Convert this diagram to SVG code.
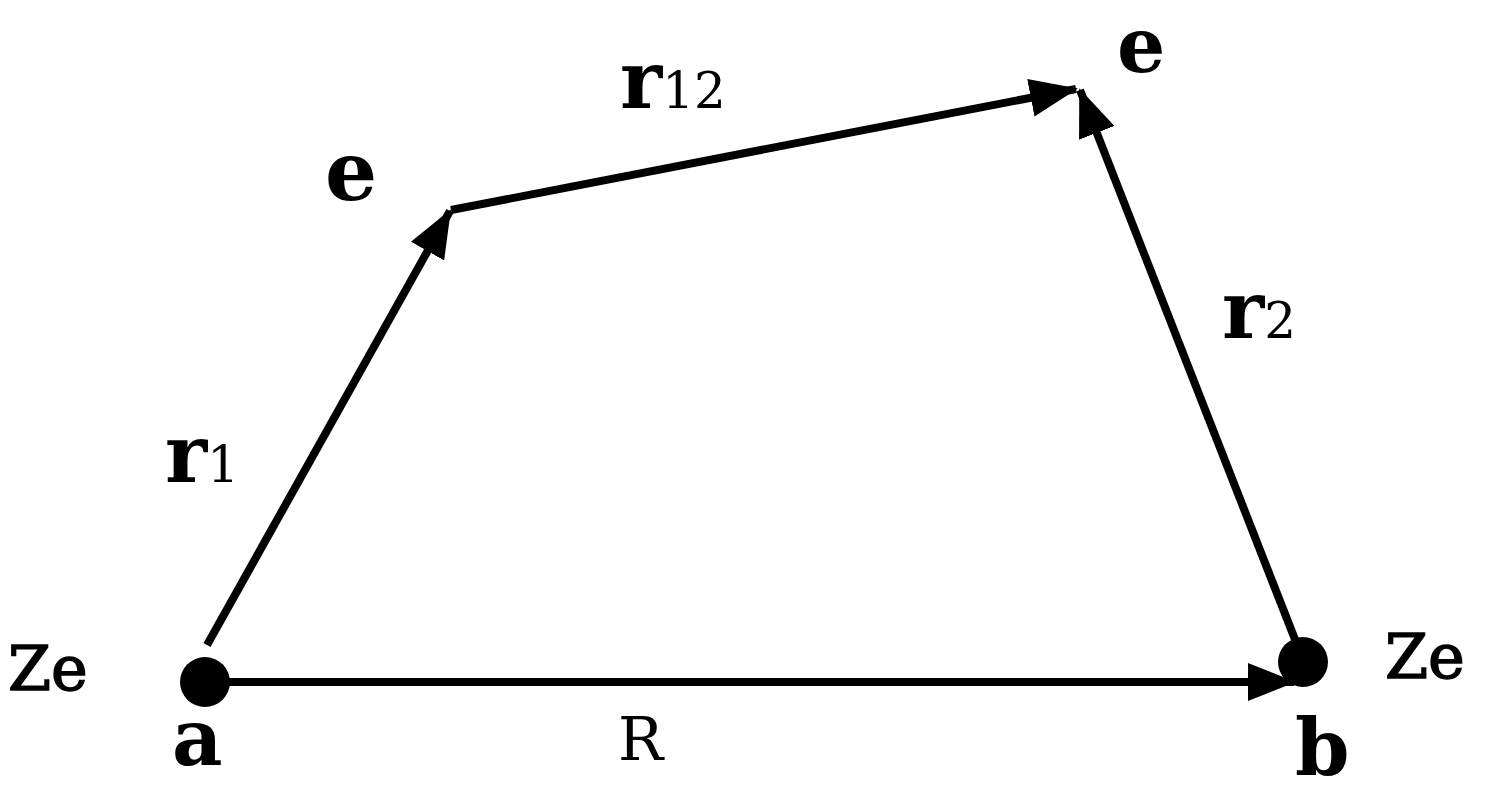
<svg xmlns="http://www.w3.org/2000/svg" width="1488" height="799" viewBox="0 0 1488 799">
<style>
.l{stroke:#000;stroke-width:8;fill:none}
.t{font-family:"DejaVu Serif","Liberation Serif",serif;fill:#000}
.b{font-weight:bold}
</style>
<defs>
<marker id="ah" markerUnits="userSpaceOnUse" markerWidth="50" markerHeight="44" refX="46" refY="22" orient="auto">
<path d="M0,3 L48,22 L0,41 Z" fill="#000"/>
</marker>
</defs>
<rect width="1488" height="799" fill="#fff"/>
<g id="connectors">
<line class="l" x1="205" y1="682" x2="1294" y2="682" marker-end="url(#ah)"/>
<line class="l" x1="207" y1="645" x2="450" y2="211" marker-end="url(#ah)"/>
<line class="l" x1="451" y1="210" x2="1076" y2="89" marker-end="url(#ah)"/>
<line class="l" x1="1296" y1="642" x2="1080" y2="90" marker-end="url(#ah)"/>
</g>
<g id="a"><circle cx="205" cy="682" r="25"/><text class="t b" x="172" y="765" font-size="78">a</text><text class="t" x="8" y="690" font-size="62" stroke="#000" stroke-width="1.5">Ze</text></g>
<g id="b"><circle cx="1303" cy="662" r="25"/><text class="t b" x="1295" y="775" font-size="78">b</text><text class="t" x="1385" y="678" font-size="62" stroke="#000" stroke-width="1.5">Ze</text></g>
<g id="e1"><text class="t b" x="325" y="200" font-size="82">e</text></g>
<g id="e2"><text class="t b" x="1117" y="72" font-size="76">e</text></g>
<text class="t b" x="165" y="482" font-size="80">r<tspan font-weight="normal" font-size="50">1</tspan></text>
<text class="t b" x="620" y="108" font-size="80">r<tspan font-weight="normal" font-size="50">12</tspan></text>
<text class="t b" x="1222" y="338" font-size="80">r<tspan font-weight="normal" font-size="50">2</tspan></text>
<text class="t" x="618" y="760" font-size="60">R</text>
</svg>
